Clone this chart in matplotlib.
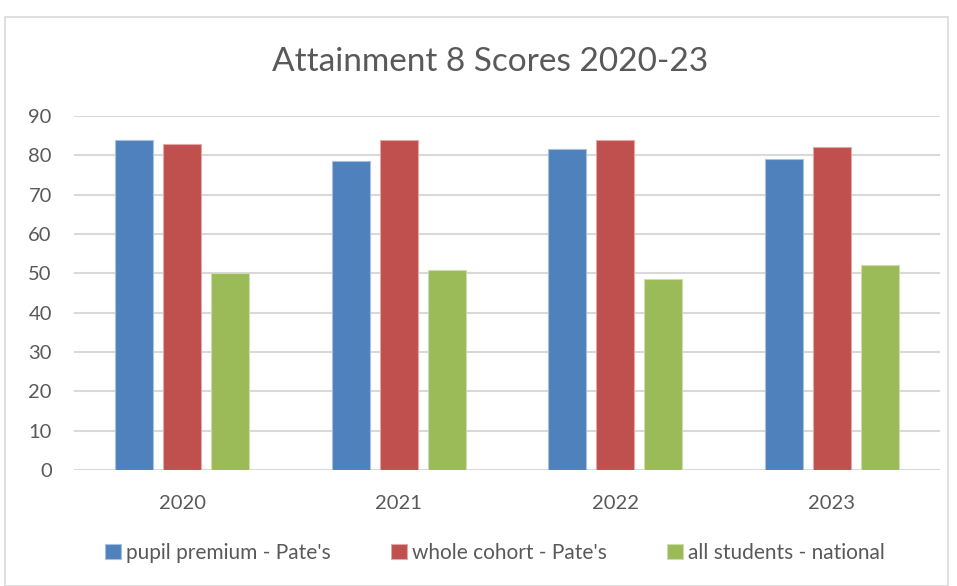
import matplotlib
matplotlib.use('Agg')
import matplotlib.pyplot as plt
from matplotlib.patches import Rectangle
import numpy as np

# ---------- Data ----------------------------------------------
years = ['2020', '2021', '2022', '2023']
pupil_premium = [83.9, 78.5, 81.7, 79.0]
whole_cohort = [83.0, 83.9, 83.9, 82.1]
national = [50.2, 50.9, 48.6, 52.0]

series_labels = ["pupil premium - Pate's", "whole cohort - Pate's", "all students - national"]
series_colors = ['#4F81BD', '#C0504D', '#9BBB59']
edge_colors = ['#A7C0DE', '#E0A8A6', '#CDDDAC']

text_color = '#595959'
plt.rcParams['font.family'] = ['Lato', 'DejaVu Sans']

# ---------- Figure --------------------------------------------
W, H = 957, 586
fig = plt.figure(figsize=(W / 100, H / 100), dpi=100)
fig.patch.set_facecolor('white')

# chart border
fig.patches.append(Rectangle((5 / W, 0), (948 - 5) / W, 1 - 17 / H,
                             transform=fig.transFigure, fill=False,
                             edgecolor='#D9D9D9', linewidth=1.2))

ax = fig.add_axes([74 / W, 1 - 470 / H, (940 - 74) / W, (470 - 116) / H])

x = np.arange(len(years))
width = 0.176
step = 0.222
for i, (vals, lab) in enumerate(zip([pupil_premium, whole_cohort, national], series_labels)):
    ax.bar(x + (i - 1) * step, vals, width, color=series_colors[i],
           edgecolor=edge_colors[i], linewidth=0.8, label=lab, zorder=3)

ax.set_xlim(-0.5, len(years) - 0.5)
ax.set_ylim(0, 90)
ax.set_yticks(range(0, 91, 10))
ax.set_xticks(x)
ax.set_xticklabels(years)
ax.grid(axis='y', color='#D9D9D9', linewidth=1.5, zorder=0)
for s in ax.spines.values():
    s.set_visible(False)
ax.tick_params(axis='both', length=0, labelsize=14.5, colors=text_color)
ax.tick_params(axis='y', pad=16)
ax.tick_params(axis='x', pad=18)

fig.text(490 / W, 1 - 62 / H, 'Attainment 8 Scores 2020-23', ha='center', va='center',
         fontsize=24, color=text_color)

leg = fig.legend(loc='center', bbox_to_anchor=(495 / W, 1 - 553 / H), ncol=3,
                 frameon=False, fontsize=15, handlelength=0.75, handleheight=0.75,
                 handletextpad=0.25, columnspacing=2.9)
for t in leg.get_texts():
    t.set_color(text_color)

plt.savefig('out.png', dpi=100)
